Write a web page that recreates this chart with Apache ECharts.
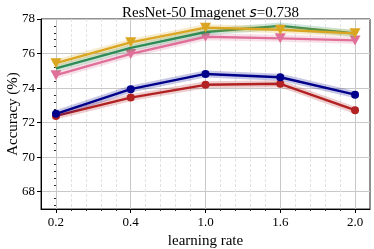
<!DOCTYPE html>
<html><head><meta charset="utf-8">
<script src="https://cdn.jsdelivr.net/npm/echarts@6/dist/echarts.min.js"></script>
<style>html,body{margin:0;padding:0;background:#fff}#c{width:374px;height:249px}</style>
</head><body><div id="c"></div>
<script>
const xLabels = ['0.2', '0.4', '1.0', '1.6', '2.0'];
const xPos = [0, 1, 2, 3, 4];
const xMinorTicks = [0.2, 0.4, 0.6, 0.8, 1.2, 1.4, 1.6, 1.8, 2.2, 2.4, 2.6, 2.8, 3.2, 3.4, 3.6, 3.8];
const yTicks = [68, 70, 72, 74, 76, 78];
const yMinorTicks = [67.2, 67.6, 68.4, 68.8, 69.2, 69.6, 70.4, 70.8, 71.2, 71.6, 72.4, 72.8, 73.2, 73.6, 74.4, 74.8, 75.2, 75.6, 76.4, 76.8, 77.2, 77.6];

const redAcc    = [72.39, 73.45, 74.19, 74.25, 72.72];
const blueAcc   = [72.51, 73.94, 74.82, 74.63, 73.62];
const pinkAcc   = [74.75, 75.98, 76.97, 76.88, 76.76];
const greenAcc  = [75.14, 76.33, 77.25, 77.6, 77.16];
const yellowAcc = [75.44, 76.65, 77.5, 77.38, 77.17];

const serif = 'Liberation Serif';
const pair = arr => arr.map((v, i) => [xPos[i], v]);

function mk(name, arr, color, symbol, size, rotate, z) {
  return [
    { name: name + '_band', type: 'line', data: pair(arr), symbol: 'none', silent: true,
      lineStyle: { color: color, width: 7, opacity: 0.22 }, z: z - 1 },
    { name: name, type: 'line', data: pair(arr), symbol: symbol, symbolSize: size, symbolRotate: rotate,
      itemStyle: { color: color, opacity: 1 }, lineStyle: { color: color, width: 2.4 }, z: z }
  ];
}

const chart = echarts.init(document.getElementById('c'), null, { renderer: 'canvas' });
chart.setOption({
  animation: false,
  backgroundColor: '#fff',
  title: {
    text: '{n|ResNet-50 Imagenet }{i|s}{n|=0.738}',
    left: 205.5, textAlign: 'center', top: 1,
    textStyle: { fontWeight: 'normal', rich: {
      n: { fontFamily: serif, fontSize: 15, fontWeight: 'normal', color: '#000' },
      i: { fontFamily: 'DejaVu Sans', fontStyle: 'italic', fontWeight: 'normal', fontSize: 14, color: '#000' }
    } }
  },
  grid: { left: 41, right: 4, top: 19, bottom: 40, show: true, borderColor: '#222', borderWidth: 1,
          containLabel: false, outerBoundsMode: 'none' },
  xAxis: [
    { type: 'value', min: -0.2, max: 4.2, interval: 0.2, position: 'bottom',
      axisLine: { show: false },
      axisTick: { show: true, customValues: xMinorTicks, length: 2, lineStyle: { color: '#222' } },
      axisLabel: { show: false },
      splitLine: { show: true, lineStyle: { color: '#e2e2e2', type: [3, 2], width: 1 } }
    },
    { type: 'value', min: -0.2, max: 4.2, position: 'bottom',
      name: 'learning rate', nameLocation: 'middle', nameGap: 23,
      nameTextStyle: { fontFamily: serif, fontSize: 15, color: '#000' },
      axisLine: { show: true, onZero: false, lineStyle: { color: '#000', width: 1 } },
      axisTick: { show: true, customValues: xPos, length: 4, lineStyle: { color: '#000' } },
      axisLabel: { show: true, customValues: xPos, formatter: v => xLabels[Math.round(v)], fontFamily: serif, fontSize: 13, color: '#000', margin: 7 },
      splitLine: { show: true, lineStyle: { color: '#c8c8c8', width: 1 } }
    }
  ],
  yAxis: [
    { type: 'value', min: 67, max: 78, position: 'left',
      name: 'Accuracy (%)', nameLocation: 'middle', nameGap: 20, nameMoveOverlap: false,
      nameTextStyle: { fontFamily: serif, fontSize: 15, color: '#000' },
      axisLine: { show: true, onZero: false, lineStyle: { color: '#000', width: 1 } },
      axisTick: { show: true, customValues: yTicks, length: 4, lineStyle: { color: '#000' } },
      axisLabel: { show: true, customValues: yTicks, fontFamily: serif, fontSize: 13, color: '#000', margin: 6 },
      splitLine: { show: true, lineStyle: { color: '#c8c8c8', width: 1 } }
    },
    { type: 'value', min: 67, max: 78, position: 'left',
      axisLine: { show: false },
      axisTick: { show: true, customValues: yMinorTicks, length: 2, lineStyle: { color: '#222' } },
      axisLabel: { show: false },
      splitLine: { show: false }
    }
  ],
  series: [].concat(
    mk('red', redAcc, '#b22222', 'circle', 8, 0, 10),
    mk('blue', blueAcc, '#00008b', 'circle', 8, 0, 12),
    mk('pink', pinkAcc, '#e07099', 'triangle', [11, 10], 180, 14),
    mk('green', greenAcc, '#2e8b57', 'none', 0, 0, 16),
    mk('yellow', yellowAcc, '#daa520', 'triangle', [11, 10], 180, 18)
  )
});
</script></body></html>
